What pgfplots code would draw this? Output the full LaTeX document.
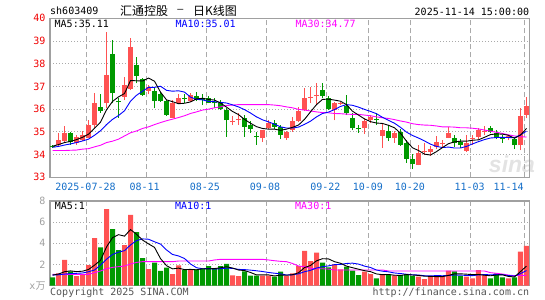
\documentclass[border=0pt]{standalone}
\usepackage{pgfplots}
\pgfplotsset{compat=1.18}
\usepackage{pgfplotstable}
\usepackage{fontspec}
\setmainfont{DejaVu Sans Mono}
\newfontfamily\cjk{Noto Sans CJK SC}
\newfontfamily\wmfont{Liberation Sans}
\definecolor{cred}{RGB}{255,82,82}
\definecolor{cgreen}{RGB}{0,153,0}
\definecolor{cblue}{RGB}{0,0,255}
\definecolor{cmag}{RGB}{255,0,255}
\definecolor{cdate}{RGB}{20,110,200}
\definecolor{cframe}{RGB}{160,160,160}
\definecolor{cgrid}{RGB}{170,170,170}
\definecolor{cplab}{RGB}{240,0,0}
\definecolor{cvlab}{RGB}{160,160,160}
\definecolor{ccopy}{RGB}{85,85,85}
\newcommand\fs{\fontsize{10bp}{10bp}\selectfont}

\pgfplotstableread{
k o h l c v
1 34.41 34.93 34.34 34.63 1.17
2 34.59 35.25 34.53 34.97 2.43
4 34.53 34.85 34.44 34.78 0.91
5 34.63 35.03 34.59 34.85 1.00
6 34.74 35.51 34.71 35.32 1.95
7 35.32 36.69 35.15 36.29 4.50
9 36.25 39.41 36.06 37.50 7.24
12 36.54 37.43 36.40 37.06 3.84
13 36.88 39.15 36.84 38.75 6.68
16 36.79 37.06 36.65 36.96 1.57
20 35.63 36.40 35.59 36.25 1.10
21 36.25 36.65 36.21 36.51 1.92
23 36.35 36.69 36.32 36.62 1.48
30 35.42 35.71 35.32 35.46 0.98
31 35.54 35.81 35.32 35.58 0.91
35 34.71 35.10 34.56 35.07 0.94
36 35.15 35.51 35.12 35.41 0.94
39 34.71 35.05 34.65 35.00 0.91
40 35.07 35.66 35.00 35.47 1.17
41 35.47 36.10 35.44 35.91 1.86
42 35.96 36.94 35.91 36.50 3.28
43 36.48 36.99 36.25 36.52 2.33
44 36.57 37.13 36.20 36.61 3.12
47 35.96 36.32 35.51 36.29 2.02
48 36.23 36.32 36.18 36.27 1.54
52 35.15 35.59 34.90 35.47 1.32
53 35.51 35.76 35.41 35.66 1.10
55 34.82 35.37 34.29 35.07 1.10
57 34.71 35.03 34.53 34.93 0.98
61 33.56 34.41 33.53 34.09 0.85
62 34.10 34.49 33.97 34.14 0.63
63 34.12 34.38 33.94 34.24 0.91
64 34.34 34.82 34.24 34.56 1.00
65 34.49 34.63 34.34 34.53 0.91
66 34.75 35.22 34.71 34.93 1.42
69 34.15 34.85 34.12 34.53 0.85
70 34.69 34.85 34.44 34.73 0.69
71 34.78 35.18 34.68 35.07 1.48
72 35.01 35.26 34.85 35.05 1.00
76 34.76 34.85 34.63 34.80 0.69
78 34.41 36.03 34.19 35.71 3.21
79 35.76 36.54 35.59 36.15 3.75
}\redtab

\pgfplotstableread{
k o h l c v
0 34.40 34.42 34.30 34.35 0.79
3 34.93 35.00 34.44 34.56 1.35
8 36.09 36.65 35.85 35.91 3.62
10 38.41 39.04 36.25 36.69 5.35
11 36.35 36.50 35.62 36.30 3.37
14 37.94 38.31 37.13 37.47 5.07
15 37.32 37.38 36.59 36.62 2.61
17 36.79 36.99 36.03 36.35 2.17
18 36.65 36.74 36.32 36.35 1.39
19 36.35 36.41 35.71 35.76 1.70
22 36.49 36.65 36.25 36.45 1.48
24 36.59 36.74 36.35 36.40 1.54
25 36.45 36.65 36.18 36.41 1.60
26 36.47 36.59 36.25 36.29 1.86
27 36.30 36.47 36.06 36.26 1.60
28 36.25 36.40 35.96 36.00 1.86
29 35.96 36.03 34.78 35.51 2.05
32 35.59 35.74 34.78 35.22 1.35
33 35.32 35.47 34.97 35.12 0.94
34 34.80 35.00 34.44 34.76 0.94
37 35.37 35.51 35.12 35.22 0.85
38 35.22 35.29 34.68 34.88 1.32
45 36.84 37.13 36.47 36.59 2.17
46 36.50 36.59 35.96 36.00 1.73
49 36.15 36.62 35.74 35.85 1.80
50 35.62 35.81 35.07 35.15 1.42
51 35.17 35.29 34.97 35.13 1.00
54 35.58 35.85 35.32 35.54 0.69
56 35.03 35.29 34.59 34.71 1.07
58 35.00 35.12 34.38 34.44 1.00
59 34.53 34.63 33.65 33.82 1.10
60 33.82 34.04 33.38 33.60 0.91
67 34.74 34.85 34.34 34.53 1.35
68 34.56 34.68 34.29 34.41 0.91
73 35.18 35.26 34.93 35.00 0.69
74 34.93 35.07 34.68 34.71 1.17
75 34.78 34.88 34.53 34.68 0.79
77 34.68 34.78 34.24 34.41 0.79
}\greentab

\pgfplotstableread{
k ma5 ma10 ma30 vma5 vma10 vma30
0 34.37 34.32 34.18 1.00 1.00 1.07
1 34.44 34.36 34.18 1.10 1.03 1.07
2 34.53 34.42 34.18 1.32 1.10 1.07
3 34.58 34.47 34.19 1.40 1.14 1.07
4 34.66 34.53 34.20 1.33 1.17 1.07
5 34.76 34.60 34.24 1.37 1.20 1.07
6 34.90 34.68 34.26 1.53 1.32 1.07
7 35.16 34.85 34.34 1.94 1.48 1.23
8 35.43 35.05 34.41 2.40 1.95 1.39
9 35.97 35.32 34.53 3.66 2.50 1.60
10 36.34 35.55 34.59 4.53 2.95 1.73
11 36.54 35.72 34.68 4.82 3.17 1.80
12 36.69 35.93 34.82 4.68 3.31 1.86
13 37.26 36.35 34.96 5.30 3.85 2.05
14 37.25 36.61 35.04 4.86 4.26 2.20
15 37.24 36.79 35.15 4.31 4.42 2.27
16 37.37 36.96 35.22 3.95 4.39 2.27
17 37.23 36.96 35.32 3.62 4.15 2.27
18 36.75 37.01 35.41 2.56 3.93 2.27
19 36.41 36.83 35.49 1.89 3.38 2.27
20 36.33 36.79 35.56 1.59 2.95 2.27
21 36.24 36.81 35.63 1.66 2.81 2.33
22 36.26 36.75 35.71 1.52 2.57 2.33
23 36.32 36.53 35.81 1.54 2.05 2.33
24 36.45 36.43 35.88 1.50 1.70 2.33
25 36.48 36.41 35.96 1.60 1.60 2.33
26 36.43 36.34 36.00 1.59 1.62 2.33
27 36.40 36.33 36.06 1.62 1.57 2.43
28 36.27 36.30 36.10 1.69 1.61 2.49
29 36.09 36.27 36.16 1.79 1.65 2.49
30 35.90 36.19 36.18 1.67 1.64 2.49
31 35.76 36.10 36.20 1.48 1.54 2.49
32 35.55 35.98 36.20 1.43 1.52 2.49
33 35.38 35.83 36.20 1.25 1.47 2.49
34 35.23 35.66 36.20 1.02 1.41 2.49
35 35.15 35.53 36.20 1.02 1.34 2.49
36 35.12 35.44 36.20 1.02 1.25 2.43
37 35.12 35.34 36.18 0.92 1.18 2.36
38 35.07 35.22 36.15 1.00 1.12 2.30
39 35.12 35.17 36.10 0.99 1.01 2.27
40 35.20 35.17 36.06 1.04 1.03 2.10
41 35.30 35.21 35.99 1.22 1.12 1.86
42 35.55 35.33 35.96 1.71 1.32 1.80
43 35.88 35.47 35.92 1.91 1.45 1.64
44 36.20 35.66 35.88 2.35 1.67 1.60
45 36.43 35.81 35.85 2.55 1.80 1.60
46 36.44 35.87 35.84 2.53 1.87 1.57
47 36.40 35.98 35.81 2.27 1.99 1.48
48 36.35 36.12 35.80 2.12 2.01 1.48
49 36.20 36.20 35.78 1.85 2.10 1.48
50 35.91 36.17 35.77 1.70 2.13 1.48
51 35.74 36.09 35.77 1.56 2.04 1.48
52 35.57 35.99 35.74 1.42 1.85 1.48
53 35.45 35.90 35.71 1.33 1.72 1.48
54 35.39 35.80 35.66 1.11 1.48 1.48
55 35.37 35.64 35.62 1.04 1.37 1.48
56 35.29 35.51 35.59 1.06 1.31 1.39
57 35.18 35.38 35.54 0.99 1.20 1.39
58 34.94 35.20 35.48 0.97 1.15 1.39
59 34.59 34.99 35.43 1.05 1.08 1.39
60 34.30 34.84 35.36 1.01 1.03 1.39
61 34.18 34.73 35.32 0.97 1.01 1.39
62 34.02 34.60 35.30 0.90 0.94 1.39
63 33.98 34.46 35.29 0.88 0.92 1.39
64 34.13 34.36 35.26 0.86 0.96 1.39
65 34.31 34.31 35.22 0.86 0.94 1.39
66 34.48 34.33 35.22 0.97 0.97 1.39
67 34.56 34.29 35.21 1.12 1.01 1.39
68 34.59 34.29 35.18 1.12 1.00 1.39
69 34.59 34.36 35.18 1.09 0.97 1.39
70 34.63 34.47 35.16 1.04 0.95 1.39
71 34.65 34.57 35.13 1.06 1.02 1.39
72 34.76 34.66 35.08 0.99 1.05 1.39
73 34.88 34.73 35.03 0.94 1.03 1.23
74 34.91 34.75 34.98 1.01 1.05 1.17
75 34.90 34.76 34.93 1.03 1.04 1.10
76 34.85 34.75 34.87 0.87 0.96 1.00
77 34.72 34.74 34.82 0.83 0.91 0.95
78 34.86 34.87 34.79 1.33 1.14 0.98
79 35.15 35.03 34.77 1.85 1.43 0.98
}\matab

\pgfplotsset{
  kbase/.style={
    scale only axis, width=479.3bp, xmin=-0.42, xmax=79.47,
    axis line style={draw=cframe, line width=1.2bp},
    major tick length=0pt,
    xtick={5.7,15.7,25.7,35.7,45.7,52.7,59.7,69.7,78.7},
    xticklabels={},
    xmajorgrids, ymajorgrids,
    x grid style={draw=cgrid, line width=0.9bp, dash pattern=on 5bp off 3bp},
    y grid style={draw=cgrid, line width=0.9bp, dash pattern=on 1bp off 2bp},
    /pgf/number format/assume math mode=true,
    yticklabel style={font=\fs, anchor=east, inner sep=0pt, xshift=-4.3bp},
    every axis plot/.append style={mark=none},
  },
  wick/.style={draw=none, mark=none, forget plot,
    error bars/.cd, y dir=plus, y explicit, error mark=none,
    error bar style={draw=#1, line width=1bp}},
  body/.style={draw=none, mark=none, forget plot,
    error bars/.cd, y dir=plus, y explicit, error mark=none,
    error bar style={draw=#1, line width=5bp}},
}

\begin{document}
\begin{tikzpicture}[x=1bp,y=1bp]
\useasboundingbox (0,0) rectangle (545bp,300bp);
\node[text=gray!22, font=\wmfont\bfseries\itshape\fontsize{23bp}{23bp}\selectfont] at (512bp,136bp) {sina};

\begin{axis}[kbase, at={(50bp,122.7bp)}, anchor=south west, height=159bp,
  ymin=33, ymax=40, ytick={33,34,35,36,37,38,39,40},
  yticklabel style={text=cplab}]
\addplot[wick=cred] table[x=k, y=l, y error expr=\thisrow{h}-\thisrow{l}] {\redtab};
\addplot[wick=cgreen] table[x=k, y=l, y error expr=\thisrow{h}-\thisrow{l}] {\greentab};
\addplot[body=cred] table[x=k, y=o, y error expr=\thisrow{c}-\thisrow{o}] {\redtab};
\addplot[body=cgreen] table[x=k, y=c, y error expr=\thisrow{o}-\thisrow{c}] {\greentab};
\addplot[cmag, line width=0.9bp] table[x=k, y=ma30] {\matab};
\addplot[cblue, line width=0.9bp] table[x=k, y=ma10] {\matab};
\addplot[black, line width=0.9bp] table[x=k, y=ma5] {\matab};
\end{axis}

\begin{axis}[kbase, at={(50bp,14.3bp)}, anchor=south west, height=84.7bp,
  ymin=0, ymax=8, ytick={0,2,4,6,8},
  yticklabels={x{\cjk 万},2,4,6,8},
  yticklabel style={text=cvlab}]
\addplot[ybar, bar width=5bp, bar shift=0pt, fill=cred, draw=none] table[x=k, y=v] {\redtab};
\addplot[ybar, bar width=5bp, bar shift=0pt, fill=cgreen, draw=none] table[x=k, y=v] {\greentab};
\addplot[cmag, line width=0.9bp] table[x=k, y=vma30] {\matab};
\addplot[cblue, line width=0.9bp] table[x=k, y=vma10] {\matab};
\addplot[black, line width=0.9bp] table[x=k, y=vma5] {\matab};
\end{axis}

% header
\node[anchor=west, inner sep=0pt, font=\fs] at (50bp,289bp) {sh603409};
\node[anchor=west, inner sep=0pt, font=\cjk\fontsize{12bp}{12bp}\selectfont] at (120bp,289bp) {汇通控股};
\node[inner sep=0pt, font=\fs] at (180.5bp,289bp) {–};
\node[anchor=west, inner sep=0pt, font=\cjk\fontsize{12bp}{12bp}\selectfont] at (193bp,289bp) {日K线图};
\node[anchor=east, inner sep=0pt, font=\fs] at (529.3bp,288.5bp) {2025-11-14 15:00:00};
% MA labels
\node[anchor=west, inner sep=0pt, font=\fs, text=black] at (54.5bp,276bp) {MA5:35.11};
\node[anchor=west, inner sep=0pt, font=\fs, text=cblue] at (175.3bp,276bp) {MA10:35.01};
\node[anchor=west, inner sep=0pt, font=\fs, text=cmag] at (295.3bp,276bp) {MA30:34.77};
\node[anchor=west, inner sep=0pt, font=\fs, text=black] at (54.7bp,94bp) {MA5:1};
\node[anchor=west, inner sep=0pt, font=\fs, text=cblue] at (175bp,94bp) {MA10:1};
\node[anchor=west, inner sep=0pt, font=\fs, text=cmag] at (295bp,94bp) {MA30:1};
% date labels
\foreach \xx/\tt in {85.5/2025-07-28, 144.7/08-11, 204.8/08-25, 265/09-08, 325.3/09-22, 367.8/10-09, 409.8/10-20, 469.7/11-03, 508.7/11-14}
  \node[inner sep=0pt, font=\fs, text=cdate] at (\xx bp,113.3bp) {\tt};
% footer
\node[anchor=west, inner sep=0pt, font=\fs, text=ccopy] at (50bp,7.7bp) {Copyright 2025 SINA.COM};
\node[anchor=east, inner sep=0pt, font=\fs, text=ccopy] at (529.3bp,7.7bp) {http://finance.sina.com.cn};
\end{tikzpicture}
\end{document}
